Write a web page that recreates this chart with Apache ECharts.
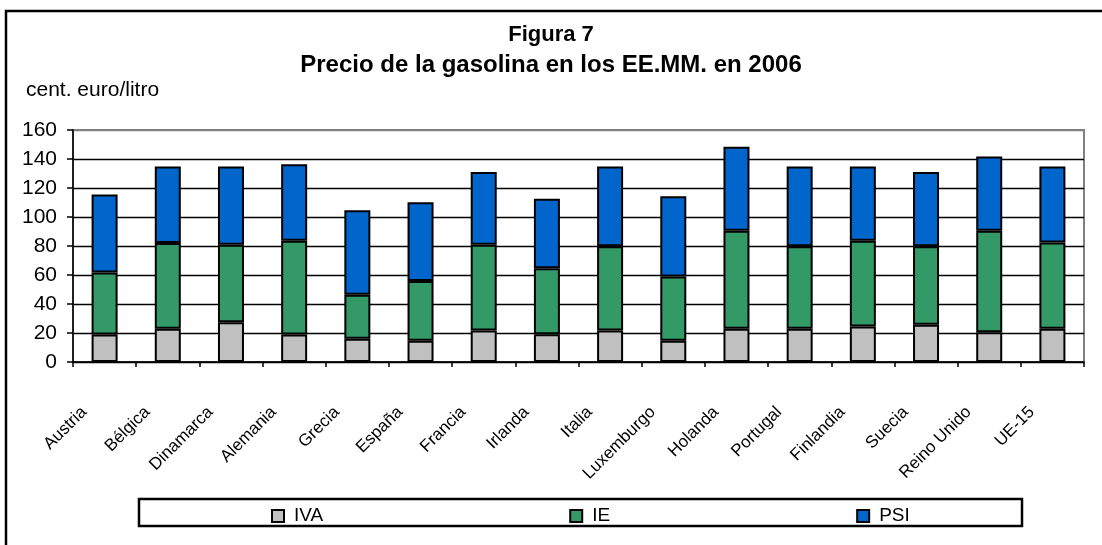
<!DOCTYPE html>
<html>
<head>
<meta charset="utf-8">
<script src="https://cdn.jsdelivr.net/npm/echarts@6/dist/echarts.min.js"></script>
<style>
  html, body { margin: 0; padding: 0; background: #fff; }
  #chart { width: 1102px; height: 545px; }
</style>
</head>
<body>
<div id="chart"></div>
<script>
// países (eje x)
var categories = ['Austria', 'Bélgica', 'Dinamarca', 'Alemania', 'Grecia', 'España', 'Francia', 'Irlanda',
  'Italia', 'Luxemburgo', 'Holanda', 'Portugal', 'Finlandia', 'Suecia', 'Reino Unido', 'UE-15'];
// componentes del precio, cent. euro/litro
var iva = [19, 23, 27.4, 18.9, 16.1, 14.7, 21.8, 19.1, 21.8, 14.7, 23, 23, 24.4, 25.7, 20.5, 23];
var ie = [42.7, 59.1, 53.5, 64.8, 30.3, 41.2, 59.1, 45.5, 58, 44.2, 67.6, 56.8, 59.3, 54.1, 70.1, 59.5];
var psi = [53.8, 52.8, 54, 52.6, 58.2, 54.2, 50.1, 48, 55.1, 55.4, 57.9, 55.1, 51.2, 51.2, 51.2, 52.4];

var font = "'Liberation Sans', Arial, sans-serif";

var myChart = echarts.init(document.getElementById('chart'));

function serie(name, data, color) {
  return {
    name: name,
    type: 'bar',
    stack: 'total',
    barWidth: 26,
    data: data,
    itemStyle: { color: color, borderColor: '#000', borderWidth: 2 },
    emphasis: { disabled: true }
  };
}

var option = {
  animation: false,
  textStyle: { fontFamily: font },
  title: [
    {
      text: 'Figura 7', left: 'center', top: 18,
      textStyle: { fontFamily: font, fontSize: 22, fontWeight: 'bold', color: '#000', lineHeight: 24 }
    },
    {
      text: 'Precio de la gasolina en los EE.MM. en 2006', left: 'center', top: 47,
      textStyle: { fontFamily: font, fontSize: 24, fontWeight: 'bold', color: '#000', lineHeight: 26 }
    },
    {
      text: 'cent. euro/litro', left: 21, top: 74,
      textStyle: { fontFamily: font, fontSize: 21, fontWeight: 'normal', color: '#000', lineHeight: 22 }
    }
  ],
  grid: { left: 73, right: 18, top: 130, bottom: 183, show: true, borderColor: '#808080', borderWidth: 2 },
  legend: {
    left: 266, top: 501,
    itemWidth: 12, itemHeight: 12, itemGap: 246,
    icon: 'rect',
    textStyle: { fontFamily: font, fontSize: 19, color: '#000', lineHeight: 20, padding: [0, 0, 0, 5] },
    data: ['IVA', 'IE', 'PSI']
  },
  xAxis: {
    type: 'category',
    data: categories,
    axisLine: { lineStyle: { color: '#000', width: 1.5 } },
    axisTick: { show: true, length: 5, lineStyle: { color: '#000', width: 1.5 } },
    axisLabel: {
      rotate: 45, interval: 0, margin: 27,
      fontFamily: font, fontSize: 17, color: '#000',
      padding: [0, 29, 0, 0]
    }
  },
  yAxis: {
    type: 'value',
    min: 0, max: 160, interval: 20,
    axisLine: { show: true, lineStyle: { color: '#000', width: 1.5 } },
    axisTick: { show: true, length: 6, lineStyle: { color: '#000', width: 1.5 } },
    axisLabel: { fontFamily: font, fontSize: 21, color: '#000', margin: 16 },
    splitLine: {
      show: true,
      lineStyle: { color: ['#000', '#000', '#000', '#000', '#000', '#000', '#000', '#000', '#808080'], width: 1.3 }
    }
  },
  graphic: [
    {
      type: 'rect', silent: true, z: -1,
      shape: { x: 6, y: 11, width: 1200, height: 600 },
      style: { fill: 'none', stroke: '#000', lineWidth: 2.5 }
    },
    {
      type: 'rect', silent: true, z: -1,
      shape: { x: 139, y: 499, width: 883, height: 27 },
      style: { fill: '#fff', stroke: '#000', lineWidth: 2.5 }
    }
  ],
  series: [
    serie('IVA', iva, '#C0C0C0'),
    serie('IE', ie, '#339966'),
    serie('PSI', psi, '#0066CC')
  ]
};

myChart.setOption(option);
window.addEventListener('resize', function () {
  myChart.resize();
});
</script>
</body>
</html>
